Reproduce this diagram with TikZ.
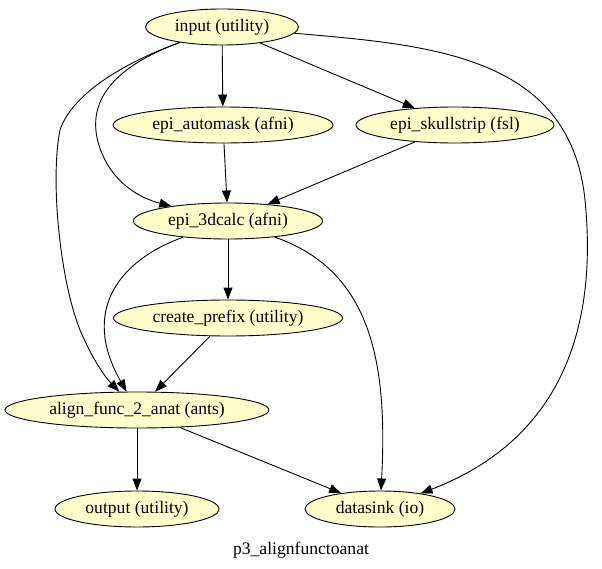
\documentclass[tikz,border=0pt]{standalone}
\usepackage{fontspec}
\setmainfont{Liberation Serif}
\usepackage{tikz}
\usetikzlibrary{arrows.meta,shapes.geometric}
\definecolor{nodefill}{HTML}{FFFFCC}

\begin{document}
\begin{tikzpicture}[x=1pt,y=-1pt,
    block/.style={ellipse,draw,fill=nodefill,line width=0.9pt,inner sep=0pt,minimum height=36pt,font=\fontsize{17.6}{20}\selectfont},
    edge/.style={line width=0.9pt,-{Triangle[length=12pt,width=9pt]}}]
  \useasboundingbox (0,0) rectangle (602,569);
  % nodes
  \node[block,minimum width=153pt] (input) at (222,27) {input (utility)};
  \node[block,minimum width=220pt] (automask) at (223,125) {epi\_automask (afni)};
  \node[block,minimum width=198pt] (skullstrip) at (455,125) {epi\_skullstrip (fsl)};
  \node[block,minimum width=189pt] (calc) at (228,221) {epi\_3dcalc (afni)};
  \node[block,minimum width=229pt] (prefix) at (228,318) {create\_prefix (utility)};
  \node[block,minimum width=264pt] (align) at (137,410) {align\_func\_2\_anat (ants)};
  \node[block,minimum width=164pt] (output) at (137,509) {output (utility)};
  \node[block,minimum width=150pt] (datasink) at (380,509) {datasink (io)};
  \node[font=\fontsize{17.6}{20}\selectfont] (title) at (301,550) {p3\_alignfunctoanat};
  % edges
  \draw[edge] (input) -- (automask);
  \draw[edge] (input) -- (skullstrip);
  \draw[edge] (input) .. controls (105,70) and (80,110) .. (105,160) .. controls (118,185) and (140,198) .. (calc);
  \draw[edge] (input) .. controls (110,68) and (70,100) .. (60,130) .. controls (50,180) and (60,280) .. (80,330) .. controls (95,365) and (108,380) .. (align);
  \draw[edge] (input) .. controls (430,45) and (570,55) .. (585,200) .. controls (598,330) and (560,440) .. (datasink);
  \draw[edge] (automask) -- (calc);
  \draw[edge] (skullstrip) -- (calc);
  \draw[edge] (calc) -- (prefix);
  \draw[edge] (calc) .. controls (120,260) and (80,310) .. (align);
  \draw[edge] (calc) .. controls (370,270) and (388,360) .. (datasink);
  \draw[edge] (prefix) -- (align);
  \draw[edge] (align) -- (output);
  \draw[edge] (align) -- (datasink);
\end{tikzpicture}
\end{document}
